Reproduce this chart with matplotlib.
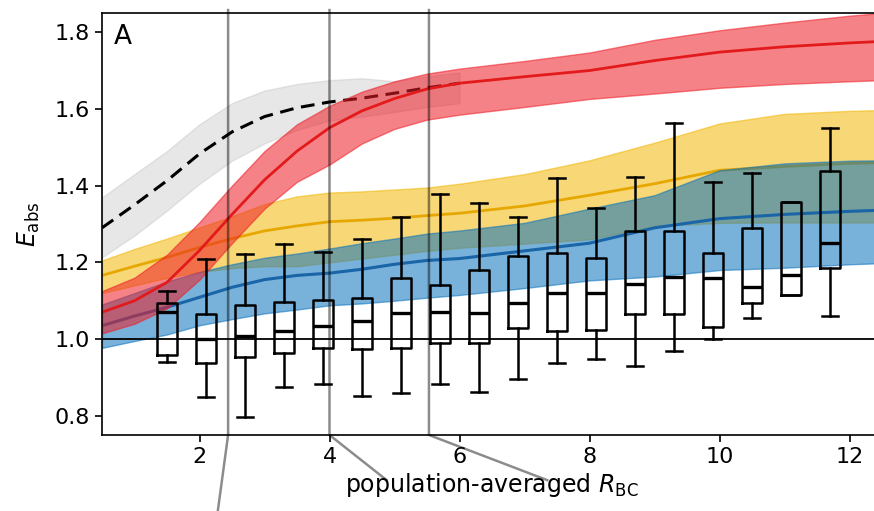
import numpy as np
import matplotlib
matplotlib.use("Agg")
import matplotlib.pyplot as plt

# model curves on a common grid of population-averaged R_BC
x_grid = [0.5, 1.0, 1.5, 2.0, 2.5, 3.0, 3.5, 4.0, 4.5, 5.0, 5.5, 6.0,
          7.0, 8.0, 9.0, 10.0, 11.0, 12.0, 12.5]

red_mid = [1.07, 1.10, 1.148, 1.231, 1.325, 1.415, 1.49, 1.551, 1.595, 1.627, 1.652, 1.667,
           1.684, 1.70, 1.726, 1.748, 1.762, 1.772, 1.776]
red_lo = [1.015, 1.04, 1.08, 1.155, 1.25, 1.34, 1.41, 1.455, 1.51, 1.548, 1.572, 1.585,
          1.605, 1.626, 1.64, 1.655, 1.665, 1.672, 1.675]
red_hi = [1.125, 1.16, 1.22, 1.305, 1.40, 1.49, 1.56, 1.608, 1.645, 1.672, 1.692, 1.705,
          1.725, 1.747, 1.78, 1.805, 1.825, 1.843, 1.85]

yel_mid = [1.166, 1.19, 1.213, 1.239, 1.262, 1.282, 1.295, 1.306, 1.31, 1.315, 1.322, 1.328,
           1.347, 1.375, 1.405, 1.44, 1.45, 1.458, 1.46]
yel_lo = [1.12, 1.14, 1.16, 1.175, 1.185, 1.19, 1.19, 1.2, 1.21, 1.22, 1.23, 1.238,
          1.249, 1.26, 1.295, 1.303, 1.304, 1.304, 1.304]
yel_hi = [1.205, 1.235, 1.262, 1.291, 1.32, 1.352, 1.372, 1.382, 1.385, 1.39, 1.395, 1.405,
          1.43, 1.466, 1.512, 1.562, 1.587, 1.595, 1.597]

blue_mid = [1.035, 1.06, 1.083, 1.109, 1.135, 1.155, 1.166, 1.172, 1.182, 1.195, 1.205, 1.21,
            1.23, 1.25, 1.29, 1.314, 1.325, 1.333, 1.336]
blue_lo = [0.977, 0.995, 1.012, 1.036, 1.052, 1.067, 1.077, 1.088, 1.093, 1.10, 1.108, 1.115,
           1.133, 1.153, 1.163, 1.18, 1.186, 1.195, 1.198]
blue_hi = [1.09, 1.12, 1.15, 1.175, 1.195, 1.212, 1.223, 1.236, 1.25, 1.262, 1.275, 1.283,
           1.303, 1.34, 1.375, 1.44, 1.458, 1.465, 1.466]

# dashed reference curve only runs up to R_BC = 6
x_ref = [0.5, 1.0, 1.5, 2.0, 2.5, 3.0, 3.5, 4.0, 4.5, 5.0, 5.5, 6.0]
ref_mid = [1.29, 1.35, 1.413, 1.483, 1.54, 1.58, 1.603, 1.618, 1.628, 1.641, 1.655, 1.667]
ref_lo = [1.213, 1.27, 1.335, 1.405, 1.465, 1.51, 1.545, 1.57, 1.58, 1.592, 1.605, 1.615]
ref_hi = [1.369, 1.43, 1.49, 1.56, 1.615, 1.648, 1.665, 1.675, 1.68, 1.672, 1.685, 1.695]

# binned observations
box_pos = [1.5, 2.1, 2.7, 3.3, 3.9, 4.5, 5.1, 5.7, 6.3, 6.9, 7.5, 8.1, 8.7, 9.3, 9.9, 10.5, 11.1, 11.7]
box_whislo = [0.941, 0.85, 0.796, 0.875, 0.882, 0.852, 0.859, 0.882, 0.862, 0.896, 0.937, 0.948,
              0.931, 0.969, 0.999, 1.056, 1.116, 1.06]
box_q1 = [0.958, 0.937, 0.954, 0.964, 0.978, 0.974, 0.976, 0.989, 0.989, 1.029, 1.022, 1.023,
          1.065, 1.065, 1.032, 1.093, 1.116, 1.186]
box_med = [1.071, 0.999, 1.008, 1.022, 1.035, 1.047, 1.067, 1.071, 1.067, 1.093, 1.119, 1.121,
           1.143, 1.162, 1.158, 1.136, 1.166, 1.25]
box_q3 = [1.094, 1.065, 1.09, 1.097, 1.101, 1.106, 1.159, 1.142, 1.181, 1.216, 1.224, 1.212,
          1.281, 1.281, 1.224, 1.289, 1.357, 1.439]
box_whishi = [1.125, 1.21, 1.223, 1.249, 1.226, 1.26, 1.319, 1.377, 1.356, 1.319, 1.421, 1.341,
              1.423, 1.562, 1.409, 1.432, 1.357, 1.549]

# R_BC values linking this panel to the ones below
link_x = [2.44, 4.0, 5.53]
link_end_x = [2.22, 4.88, 7.35]
link_end_y = [-0.25, -0.107, -0.107]

fig = plt.figure(figsize=(8.74, 5.11), dpi=100)
ax = fig.add_axes([102 / 874, 76 / 511, 780 / 874, 422 / 511])

# each band is drawn with its centre line, so later bands tint the earlier lines
ax.fill_between(x_ref, ref_lo, ref_hi, color="#bbbbbb", alpha=0.35, lw=1, zorder=1)
ax.plot(x_ref, ref_mid, color="k", lw=2.2, ls=(0, (4.5, 2.5)), zorder=1.05)
ax.fill_between(x_grid, yel_lo, yel_hi, color="#f2b705", alpha=0.55, lw=1, zorder=1.1)
ax.plot(x_grid, yel_mid, color="#e6a800", lw=2, zorder=1.15)
ax.fill_between(x_grid, blue_lo, blue_hi, color="#0a72bd", alpha=0.55, lw=1, zorder=1.2)
ax.plot(x_grid, blue_mid, color="#1a65a8", lw=2.2, zorder=1.25)
ax.fill_between(x_grid, red_lo, red_hi, color="#ee1c25", alpha=0.55, lw=1, zorder=1.3)
ax.plot(x_grid, red_mid, color="#e31a1c", lw=2, zorder=1.35)

ax.axhline(1.0, color="k", lw=1.3, zorder=2.5)

stats = []
for i in range(len(box_pos)):
    stats.append(dict(whislo=box_whislo[i], q1=box_q1[i], med=box_med[i],
                      q3=box_q3[i], whishi=box_whishi[i], fliers=[]))
ax.bxp(stats, positions=box_pos, widths=0.3, capwidths=0.24, showfliers=False,
       manage_ticks=False, zorder=3,
       boxprops=dict(color="k", lw=1.8),
       medianprops=dict(color="k", lw=2.4),
       whiskerprops=dict(color="k", lw=1.8),
       capprops=dict(color="k", lw=1.8))

# connector lines down to the lower panels
trans = ax.get_xaxis_transform()
for xv, xe, ye in zip(link_x, link_end_x, link_end_y):
    ax.plot([xv, xv, xe], [1.007, 0.0, ye], transform=trans, color="k", alpha=0.45,
            lw=1.8, clip_on=False, zorder=4)

ax.set_xlim(0.5, 12.5)
ax.set_ylim(0.75, 1.85)
ax.set_xticks([2, 4, 6, 8, 10, 12])
ax.set_yticks([0.8, 1.0, 1.2, 1.4, 1.6, 1.8])
ax.tick_params(labelsize=16, length=5, width=1.2)
for s in ax.spines.values():
    s.set_linewidth(1.2)

ax.set_xlabel(r"population-averaged $R_{\mathrm{BC}}$", fontsize=17, labelpad=3)
ax.set_ylabel(r"$E_{\mathrm{abs}}$", fontsize=17, labelpad=9)
ax.text(0.015, 0.975, "A", transform=ax.transAxes, ha="left", va="top", fontsize=19)

fig.savefig("out.png", dpi=100)
